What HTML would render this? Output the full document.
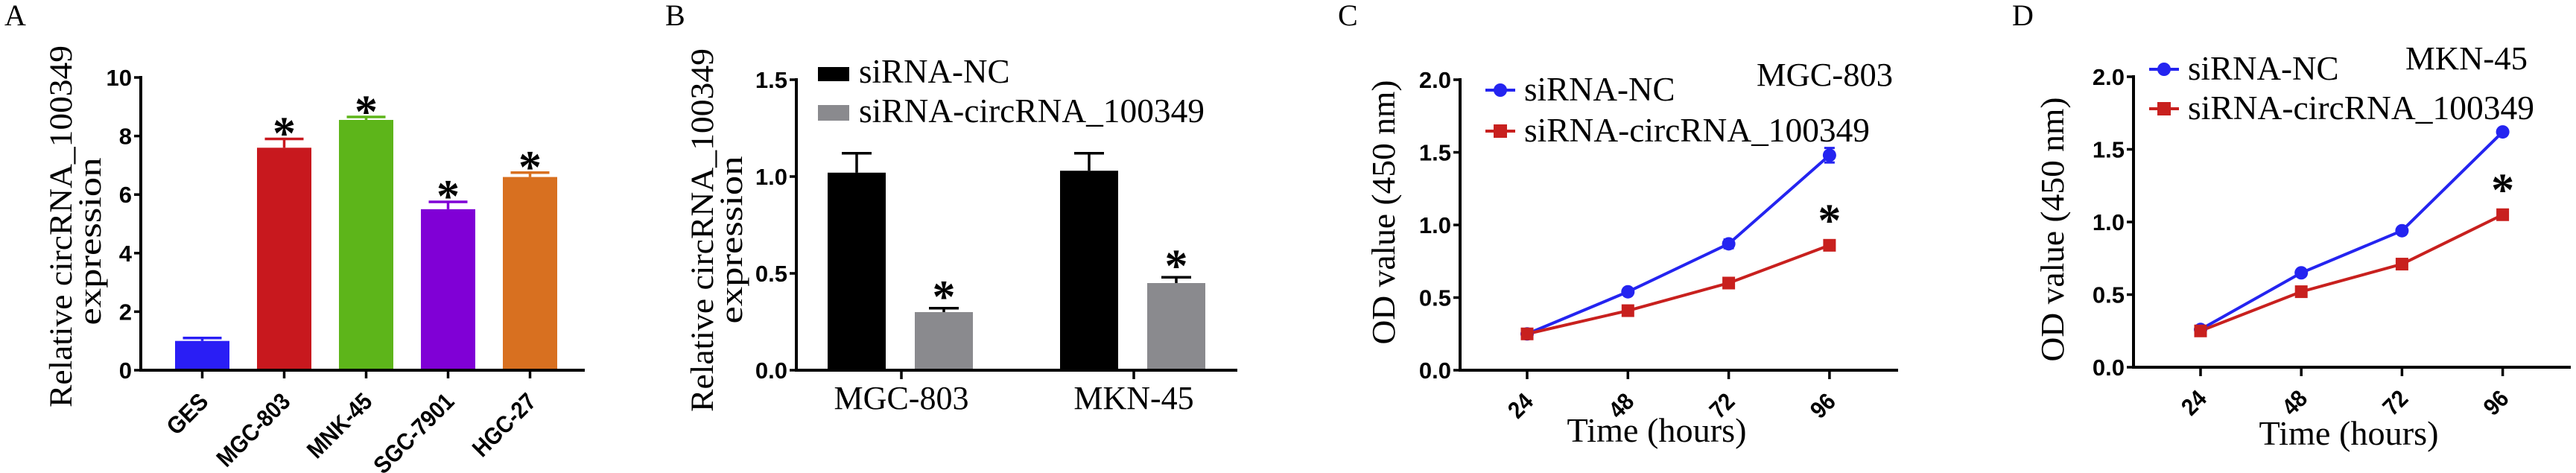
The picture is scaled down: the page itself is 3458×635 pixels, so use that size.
<!DOCTYPE html>
<html><head><meta charset="utf-8"><style>
html,body{margin:0;padding:0;background:#fff;}
svg{display:block;}
text{font-family:"Liberation Serif",serif;}
.tk{font-family:"Liberation Sans",sans-serif;font-weight:bold;}
</style></head><body>
<svg id="fig" xmlns="http://www.w3.org/2000/svg" width="3458" height="635" viewBox="0 0 3458 635">
<rect width="3458" height="635" fill="#fff"/>
</svg>
<script>
// ---- Panel A data ----
const A_cats=['GES','MGC-803','MNK-45','SGC-7901','HGC-27'];
const A_vals=[1.0,7.6,8.55,5.5,6.6];
const A_errs=[0.1,0.3,0.1,0.25,0.15];
const A_sig=[false,true,true,true,true];
const A_yticks=[0,2,4,6,8,10];
const A_colors=['#2a1ef5','#c8181e','#5db51a','#8000d6','#d87020'];
// ---- Panel B data ----
const B_groups=['MGC-803','MKN-45'];
const B_nc=[1.02,1.03];
const B_nc_err=[0.1,0.09];
const B_si=[0.30,0.45];
const B_si_err=[0.02,0.03];
const B_yticks=[0,0.5,1.0,1.5];
// ---- Panel C data ----
const C_times=[24,48,72,96];
const C_nc=[0.25,0.54,0.87,1.48];
const C_nc_err=[0.01,0.02,0.03,0.05];
const C_si=[0.25,0.41,0.60,0.86];
const C_si_err=[0.01,0.02,0.02,0.03];
const C_yticks=[0,0.5,1.0,1.5,2.0];
// ---- Panel D data ----
const D_times=[24,48,72,96];
const D_nc=[0.26,0.65,0.94,1.62];
const D_nc_err=[0.01,0.02,0.02,0.02];
const D_si=[0.25,0.52,0.71,1.05];
const D_si_err=[0.01,0.02,0.02,0.02];
const D_yticks=[0,0.5,1.0,1.5,2.0];

const NS='http://www.w3.org/2000/svg';
const svg=document.getElementById('fig');
function mk(tag,attrs,parent){const e=document.createElementNS(NS,tag);for(const k in attrs)e.setAttribute(k,attrs[k]);(parent||svg).appendChild(e);return e;}
function tw(s,fs){let w=0;for(const c of s){if(/[0-9]/.test(c))w+=0.5;else if(c==='.')w+=0.25;else if(c==='-')w+=0.3;else if(c==='M')w+=0.75;else if(/[A-Z]/.test(c))w+=0.66;else w+=0.5;}return w*fs;}
function line(x1,y1,x2,y2,col,w,name,g){const l=mk('line',{x1,y1,x2,y2,stroke:col,'stroke-width':w},g);


return l;}
function txt(s,x,y,attrs,name,g){const t=mk('text',Object.assign({x,y},attrs),g);t.textContent=s;


return t;}
function star(x,yc,name,g){const fs=62;return txt('*',x,yc+0.6*fs,{'font-size':fs,'text-anchor':'middle','font-family':'"Liberation Sans",sans-serif','font-weight':'bold'},name,g);}
function yTicks(ticks,fmt,axisX,ys,g,prefix){ticks.forEach(v=>{const y=ys(v);line(axisX-9,y,axisX,y,'#000',3.5,prefix+'-y-tick',g);
const s=fmt(v);txt(s,axisX-12,y+11,{'class':'tk','font-size':31,'text-anchor':'end'},prefix+'-y-tick-label',g);});}
function rotLabel(s,x,axisY,g,name){const ex=x+10,ey=axisY+44;txt(s,ex,ey,{'class':'tk','font-size':32,'text-anchor':'end',transform:`rotate(-45 ${ex} ${ey})`,textLength:tw(s,32),lengthAdjust:'spacingAndGlyphs'},name,g);}
function group(name){const g=mk('g',{});


return g;}
function panelLabel(s,x){txt(s,x,34,{'font-size':40},'panel-label-'+s.toLowerCase());}

// ===== Panel A =====
(function(){
const g=group('panel-a-chart');
const axX=189,y0=497,y1=104,yMax=10;
const ys=v=>y0-(v/yMax)*(y0-y1);
const xs=i=>271.5+i*110;
const bw=73;
panelLabel('A',6);
A_cats.forEach((c,i)=>{
 const x=xs(i),top=ys(A_vals[i]),et=ys(A_vals[i]+A_errs[i]);
 const r=mk('rect',{x:x-bw/2,y:top,width:bw,height:y0-top,fill:A_colors[i]},g);
 
 
 line(x,top,x,et,A_colors[i],3.5,'error-bar',g);
 line(x-26,et,x+26,et,A_colors[i],3.5,'error-cap',g);
 if(A_sig[i])star(x,et-24,'significance-star',g);
 line(x,y0,x,y0+11,'#000',3.5,'x-tick',g);
 rotLabel(c,x,y0,g,'x-tick-label');
});
line(axX,y1-2,axX,y0+2,'#000',4,'y-axis',g);
line(axX-2,y0,785,y0,'#000',4,'x-axis',g);
yTicks(A_yticks,v=>String(v),axX,ys,g,'a');
txt('Relative circRNA_100349',0,0,{'font-size':43,'text-anchor':'middle',transform:'translate(96 304) rotate(-90)',textLength:486,lengthAdjust:'spacingAndGlyphs'},'y-axis-title',g);
txt('expression',0,0,{'font-size':43,'text-anchor':'middle',transform:'translate(135 324) rotate(-90)',textLength:225,lengthAdjust:'spacingAndGlyphs'},'y-axis-title-line2',g);
})();

// ===== Panel B =====
(function(){
const g=group('panel-b-chart');
const axX=1069,y0=497,y1=107,yMax=1.5;
const ys=v=>y0-(v/yMax)*(y0-y1);
const xs=i=>1210+i*312;
const bw=78;
panelLabel('B',893);
B_groups.forEach((c,i)=>{
 const x=xs(i);
 [[B_nc,B_nc_err,-60,'#000','nc'],[B_si,B_si_err,57,'#8a8a8e','si']].forEach(([vals,errs,off,col,nm],k)=>{
  const cx=x+off,top=ys(vals[i]),et=ys(vals[i]+errs[i]);
  const r=mk('rect',{x:cx-bw/2,y:top,width:bw,height:y0-top,fill:col},g);
  
  
  line(cx,top,cx,et,'#000',3.5,'error-bar',g);
  line(cx-20,et,cx+20,et,'#000',3.5,'error-cap',g);
  if(k===1)star(cx,et-32,'significance-star',g);
 });
 line(x,y0,x,y0+12,'#000',3.5,'x-tick',g);
 txt(c,x,549,{'font-size':44,'text-anchor':'middle'},'x-tick-label',g);
});
line(axX,y1-2,axX,y0+2,'#000',4,'y-axis',g);
line(axX-2,y0,1661,y0,'#000',4,'x-axis',g);
yTicks(B_yticks,v=>v.toFixed(1),axX,ys,g,'b');
const l1=mk('rect',{x:1098,y:90,width:42,height:19,fill:'#000'},g);


txt('siRNA-NC',1153,111,{'font-size':45},'legend-label-nc',g);
const l2=mk('rect',{x:1098,y:141,width:42,height:21,fill:'#8a8a8e'},g);


txt('siRNA-circRNA_100349',1153,164,{'font-size':45,textLength:464,lengthAdjust:'spacingAndGlyphs'},'legend-label-si',g);
txt('Relative circRNA_100349',0,0,{'font-size':43,'text-anchor':'middle',transform:'translate(957 309) rotate(-90)',textLength:488,lengthAdjust:'spacingAndGlyphs'},'y-axis-title',g);
txt('expression',0,0,{'font-size':43,'text-anchor':'middle',transform:'translate(996 322) rotate(-90)',textLength:225,lengthAdjust:'spacingAndGlyphs'},'y-axis-title-line2',g);
})();

// ===== Line panels =====
function linePanel(o){
 const g=group(o.name);
 const ys=v=>o.y0-(v/2.0)*(o.y0-o.y1);
 const xs=t=>o.x24+(t-24)/24*o.dx;
 panelLabel(o.label,o.lx);
 const series=[[o.nc,o.ncErr,'#2424f0','nc'],[o.si,o.siErr,'#c8201e','si']];
 series.forEach(([vals,errs,col,nm])=>{
  const pts=o.times.map((t,i)=>xs(t)+','+ys(vals[i])).join(' ');
  const pl=mk('polyline',{points:pts,fill:'none',stroke:col,'stroke-width':4},g);
  
  
 });
 series.forEach(([vals,errs,col,nm])=>{
  o.times.forEach((t,i)=>{
   const x=xs(t),y=ys(vals[i]),eu=ys(vals[i]+errs[i]),ed=ys(vals[i]-errs[i]);
   line(x,eu,x,ed,col,3,'error-bar',g);line(x-7,eu,x+7,eu,col,3,'error-cap',g);line(x-7,ed,x+7,ed,col,3,'error-cap',g);
   let m;
   if(nm==='nc')m=mk('circle',{cx:x,cy:y,r:9,fill:col},g);
   else m=mk('rect',{x:x-8.5,y:y-8.5,width:17,height:17,fill:col},g);
   
   
  });
 });
 const lt=o.times[o.times.length-1];
 star(xs(lt),ys(o.si[o.si.length-1])-o.starOff,'significance-star',g);
 o.times.forEach(t=>{const x=xs(t);line(x,o.y0,x,o.y0+12,'#000',3.5,'x-tick',g);rotLabel(String(t),x,o.y0,g,'x-tick-label');});
 line(o.axX,o.y1-2,o.axX,o.y0+2,'#000',4,'y-axis',g);
 line(o.axX-2,o.y0,o.xEnd,o.y0,'#000',4,'x-axis',g);
 yTicks(o.yticks,v=>v.toFixed(1),o.axX,ys,g,o.label.toLowerCase());
 line(o.legX,o.legY1,o.legX+40,o.legY1,'#2424f0',4,'legend-line-nc',g);
 const c=mk('circle',{cx:o.legX+20,cy:o.legY1,r:9,fill:'#2424f0'},g);
 
 
 txt('siRNA-NC',o.legX+52,o.legY1+14,{'font-size':45},'legend-label-nc',g);
 line(o.legX,o.legY2,o.legX+40,o.legY2,'#c8201e',4,'legend-line-si',g);
 const s=mk('rect',{x:o.legX+11,y:o.legY2-9,width:18,height:18,fill:'#c8201e'},g);
 
 
 txt('siRNA-circRNA_100349',o.legX+52,o.legY2+14,{'font-size':45,textLength:o.siLen,lengthAdjust:'spacingAndGlyphs'},'legend-label-si',g);
 txt(o.cell,o.cellX,o.cellY,{'font-size':44,textLength:o.cellLen,lengthAdjust:'spacingAndGlyphs'},'cell-line-title',g);
 txt('OD value (450 nm)',0,0,{'font-size':44,'text-anchor':'middle',transform:`translate(${o.titleX} ${o.titleY}) rotate(-90)`,textLength:355,lengthAdjust:'spacingAndGlyphs'},'y-axis-title',g);
 txt('Time (hours)',o.timeX,o.timeY,{'font-size':46,'text-anchor':'middle',textLength:241,lengthAdjust:'spacingAndGlyphs'},'x-axis-title',g);
}
linePanel({name:'panel-c-chart',label:'C',lx:1796,times:C_times,nc:C_nc,ncErr:C_nc_err,si:C_si,siErr:C_si_err,yticks:C_yticks,
 axX:1960,y0:497,y1:107,x24:2050,dx:135.3,xEnd:2548,starOff:50,legX:1994,legY1:121,legY2:176,siLen:464,
 cell:'MGC-803',cellX:2358,cellY:115,cellLen:183,titleX:1872,titleY:285,timeX:2224,timeY:593});
linePanel({name:'panel-d-chart',label:'D',lx:2701,times:D_times,nc:D_nc,ncErr:D_nc_err,si:D_si,siErr:D_si_err,yticks:D_yticks,
 axX:2864,y0:493,y1:103,x24:2954,dx:135.2,xEnd:3451,starOff:50,legX:2885,legY1:93,legY2:146,siLen:465,
 cell:'MKN-45',cellX:3229,cellY:93,cellLen:164,titleX:2770,titleY:308,timeX:3153,timeY:597});
</script>
</body></html>
